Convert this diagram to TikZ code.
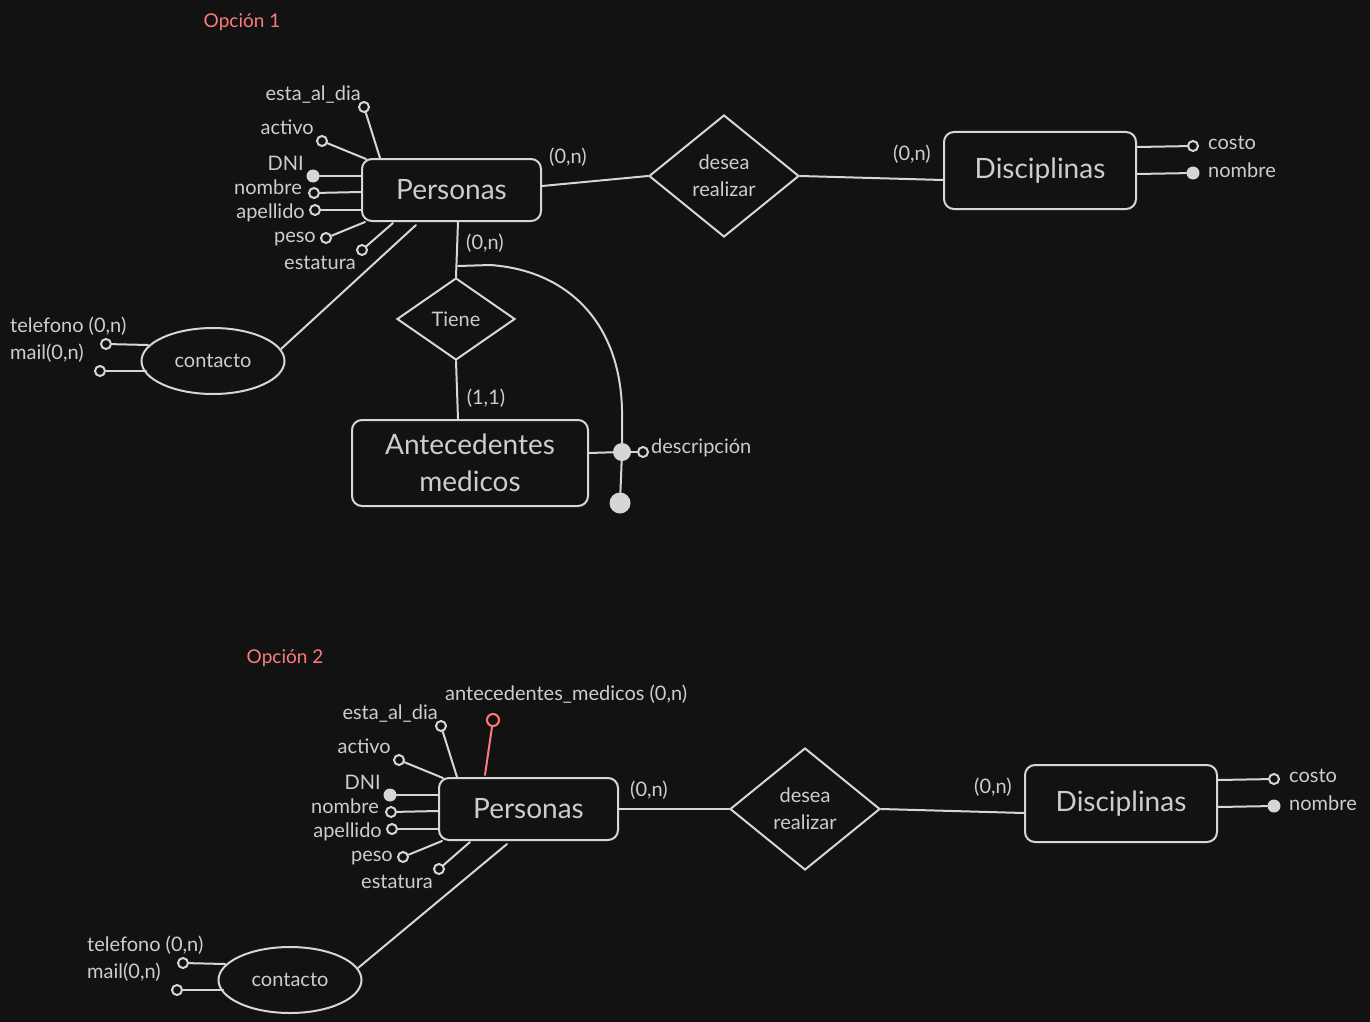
\documentclass[tikz,border=0pt]{standalone}
\usepackage{fontspec}
\setmainfont{Lato}
\usetikzlibrary{shapes.geometric,calc}

\definecolor{bg}{HTML}{121212}
\definecolor{ink}{HTML}{D6D6D6}
\definecolor{txt}{HTML}{CDCDCD}
\definecolor{accent}{HTML}{FF7B7B}

\newcommand\lblfont{\fontsize{20}{27}\selectfont}
\newcommand\entfont{\fontsize{28}{37}\selectfont}
\newcommand\ttlfont{\fontsize{19}{24}\selectfont}

\tikzset{
  edge/.style={draw=ink, line width=2pt, line cap=round},
  entity/.style={draw=ink, line width=2pt, rounded corners=10pt, fill=bg,
    text=txt, font=\entfont, inner sep=0pt, align=center},
  rel/.style={diamond, draw=ink, line width=2pt, fill=bg, text=txt,
    font=\lblfont, inner sep=0pt, align=center},
  weak/.style={ellipse, draw=ink, line width=2pt, fill=bg, text=txt,
    font=\lblfont, inner sep=0pt},
  attr/.style={circle, draw=ink, line width=2pt, fill=bg, inner sep=0pt,
    minimum size=10pt},
  key/.style={circle, fill=ink, inner sep=0pt, minimum size=13pt},
  lbl/.style={text=txt, font=\lblfont, inner sep=0pt},
  title/.style={text=accent, font=\ttlfont, inner sep=0pt},
}

% Personas with its attributes and the multivalued "contacto"
% #1 = name prefix, #2 = where the contacto link leaves the box
\newcommand\personascluster[2]{%
  \node[entity, minimum width=179pt, minimum height=62pt] (#1per) at (451.5,190) {Personas};
  \node[attr] (#1esta) at (364,107) {};
  \node[lbl, anchor=east] (#1estal) at (361,95) {esta\_al\_dia};
  \node[attr] (#1act) at (322,141) {};
  \node[lbl, anchor=east] (#1actl) at (314,127) {activo};
  \node[key] (#1dni) at (313,176) {};
  \node[lbl, anchor=east] (#1dnil) at (304,163) {DNI};
  \node[attr] (#1nom) at (314,193) {};
  \node[lbl, anchor=east] (#1noml) at (302,187) {nombre};
  \node[attr] (#1ape) at (315,210) {};
  \node[lbl, anchor=east] (#1apel) at (305,213) {apellido};
  \node[attr] (#1peso) at (326,238) {};
  \node[lbl, anchor=east] (#1pesol) at (316,239) {peso};
  \node[attr] (#1est) at (362,250) {};
  \node[lbl, anchor=east] (#1estl) at (356,263) {estatura};
  \draw[edge] (#1esta) -- ($(#1per.north west)+(19,0)$);
  \draw[edge] (#1act) -- ($(#1per.north west)+(5,1)$);
  \draw[edge] (#1dni) -- ($(#1per.north west)+(0,18)$);
  \draw[edge] (#1nom) -- ($(#1per.north west)+(0,34)$);
  \draw[edge] (#1ape) -- ($(#1per.north west)+(0,52)$);
  \draw[edge] (#1peso) -- ($(#1per.south west)+(4,0)$);
  \draw[edge] (#1est) -- ($(#1per.south west)+(32,1)$);
  % contacto
  \node[weak, minimum width=143pt, minimum height=66pt] (#1ct) at (213,361) {contacto};
  \node[attr] (#1tel) at (106,344) {};
  \node[lbl, anchor=west] (#1tell) at (10,326) {telefono (0,n)};
  \node[attr] (#1mail) at (100,371) {};
  \node[lbl, anchor=west] (#1maill) at (10,353) {mail(0,n)};
  \draw[edge] (#1tel) -- ($(#1ct.center)+(-65,-16)$);
  \draw[edge] (#1mail) -- ($(#1ct.center)+(-67,10)$);
  \draw[edge] ($(#1per.south west)+(#2,3)$) -- ($(#1ct.center)+(68,-12)$);
}

% "desea realizar" and Disciplinas
\newcommand\disciplinascluster[1]{%
  \node[rel, minimum width=150pt, minimum height=122pt] (#1des) at (724,176) {desea\\realizar};
  \node[entity, minimum width=192pt, minimum height=77pt] (#1dis) at (1040,170.5) {Disciplinas};
  \node[attr] (#1costo) at (1193,146) {};
  \node[lbl, anchor=west] (#1costol) at (1208,143) {costo};
  \node[key] (#1dnom) at (1193,173) {};
  \node[lbl, anchor=west] (#1dnoml) at (1208,170) {nombre};
  \node[lbl] (#1cardp) at (568,157) {(0,n)};
  \node[lbl] (#1cardd) at (912,154) {(0,n)};
  \draw[edge] (#1des.east) -- ($(#1dis.west)+(0,9.5)$);
  \draw[edge] ($(#1dis.east)+(0,-23.5)$) -- (#1costo);
  \draw[edge] ($(#1dis.east)+(0,3.5)$) -- (#1dnom);
}

\begin{document}
\begin{tikzpicture}[x=1pt, y=-1pt]
  \fill[bg] (0,0) rectangle (1370,1022);
  \useasboundingbox (0,0) rectangle (1370,1022);

  % ---------- Opción 1 ----------
  \node[title] (t1) at (242,22) {Opción 1};
  \personascluster{a-}{55}
  \disciplinascluster{a-}
  \draw[edge] ($(a-per.east)+(0,-4)$) -- (a-des.west);

  \node[rel, minimum width=118pt, minimum height=82pt] (ti) at (456,319) {Tiene};
  \node[entity, minimum width=236pt, minimum height=86pt] (am) at (470,463) {Antecedentes\\medicos};
  \node[lbl] (card1) at (485,243) {(0,n)};
  \node[lbl] (card2) at (486,398) {(1,1)};
  \draw[edge] ($(a-per.south)+(6.5,0)$) -- (ti.north);
  \draw[edge] (ti.south) -- ($(am.north west)+(107,0)$);

  \coordinate (br) at ($(a-per.south)+(6.5,44)$);
  \node[key, minimum size=18pt] (jn) at (622,452) {};
  \node[key, minimum size=21pt] (bot) at (620,503) {};
  \node[attr] (desc) at (643,452) {};
  \node[lbl, anchor=west] (descl) at (651,448) {descripción};
  \draw[edge] (br) -- (490,265) .. controls (565,270) and (620,320) .. (622,410) -- (jn);
  \draw[edge] ($(am.east)+(0,-10)$) -- (jn);
  \draw[edge] (jn) -- (bot);
  \draw[edge] (jn) -- (desc);

  % ---------- Opción 2 ----------
  \node[title] (t2) at (285,658) {Opción 2};
  \begin{scope}[shift={(77,619)}]
    \personascluster{b-}{69}
  \end{scope}
  \begin{scope}[shift={(81,633)}]
    \disciplinascluster{b-}
  \end{scope}
  \draw[edge] (b-per.east) -- (b-des.west);

  \node[attr, draw=accent, minimum size=12pt] (am2) at (493,720) {};
  \node[lbl, anchor=west] (am2l) at (445,694) {antecedentes\_medicos (0,n)};
  \draw[edge, draw=accent] (am2) -- ($(b-per.north west)+(47,-2)$);
\end{tikzpicture}
\end{document}
